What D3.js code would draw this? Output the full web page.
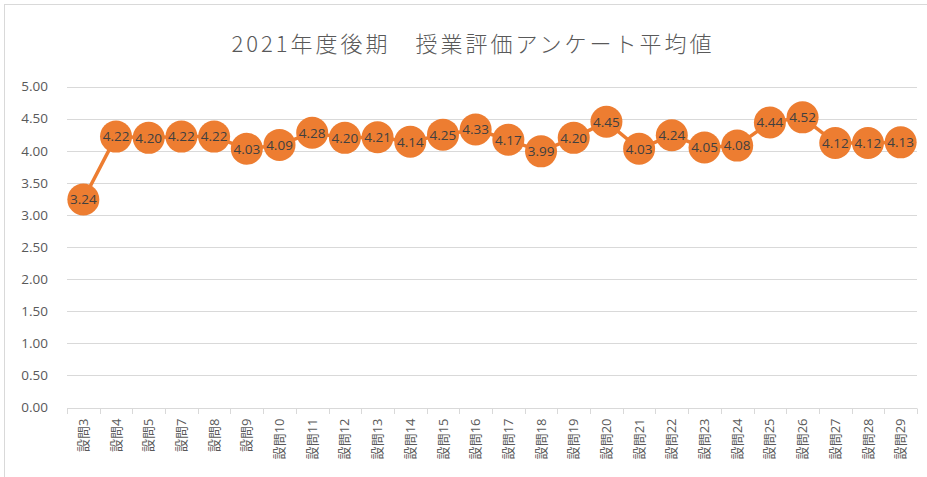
<!DOCTYPE html>
<html><head><meta charset="utf-8">
<script src="https://cdn.jsdelivr.net/npm/d3@7/dist/d3.min.js"></script>
<style>body{margin:0;background:#fff;}svg{display:block;}</style>
</head><body><svg id="c" width="927" height="477"></svg>
<script>
const categories = ["設問3","設問4","設問5","設問7","設問8","設問9","設問10","設問11","設問12","設問13","設問14","設問15","設問16","設問17","設問18","設問19","設問20","設問21","設問22","設問23","設問24","設問25","設問26","設問27","設問28","設問29"];
const values = [3.24,4.22,4.20,4.22,4.22,4.03,4.09,4.28,4.20,4.21,4.14,4.25,4.33,4.17,3.99,4.20,4.45,4.03,4.24,4.05,4.08,4.44,4.52,4.12,4.12,4.13];
const yTicks = [0,0.5,1,1.5,2,2.5,3,3.5,4,4.5,5];
const title = "2021年度後期　授業評価アンケート平均値";

const svg = d3.select("#c");
const font = "'Open Sans','Noto Sans CJK JP',sans-serif";
svg.append("rect").attr("x",4.5).attr("y",4.5).attr("width",940).attr("height",500)
  .attr("fill","#fff").attr("stroke","#d9d9d9");

const x = d3.scaleBand().domain(categories).range([67,917]);
const y = d3.scaleLinear().domain([0,5]).range([407.5,86.5]);

svg.append("text").attr("x",473).attr("y",52).attr("text-anchor","middle")
  .attr("font-family","'Noto Sans CJK JP',sans-serif").attr("font-size",22)
  .attr("letter-spacing",3).attr("font-weight",300)
  .attr("fill","#595959").text(title);

// gridlines
svg.append("g").selectAll("line").data(yTicks.filter(d=>d>0)).join("line")
  .attr("x1",67).attr("x2",917).attr("y1",d=>Math.round(y(d))+0.5).attr("y2",d=>Math.round(y(d))+0.5)
  .attr("stroke","#d9d9d9").attr("stroke-width",1);

// y axis
const ya = svg.append("g").attr("transform","translate(67,0)")
  .call(d3.axisLeft(y).tickValues(yTicks).tickFormat(d3.format(".2f")).tickSize(0).tickPadding(19));
ya.select(".domain").remove();
ya.selectAll("text").attr("font-family",font).attr("font-size",13.5).attr("fill","#595959");

// x axis
const xa = svg.append("g").attr("transform",`translate(0,${Math.round(y(0))+0.5})`)
  .call(d3.axisBottom(x).tickSize(0).tickPadding(0));
xa.select(".domain").attr("stroke","#d9d9d9").attr("d","M67,0H917");
xa.selectAll(".tick line").remove();
const bounds = categories.map(c=>x(c)).concat([x.range()[1]]);
svg.append("g").selectAll("line").data(bounds).join("line")
  .attr("x1",d=>Math.round(d)+0.5).attr("x2",d=>Math.round(d)+0.5)
  .attr("y1",Math.round(y(0))+0.5).attr("y2",Math.round(y(0))+6)
  .attr("stroke","#d9d9d9");
xa.selectAll(".tick text")
  .attr("font-family",font).attr("font-size",13).attr("fill","#595959")
  .attr("text-anchor","end").attr("dy","0.35em")
  .attr("transform","translate(0,10) rotate(-90)");

// line
const cx = d=>x(d)+x.bandwidth()/2;
svg.append("path").datum(values.map((v,i)=>[cx(categories[i]),y(v)]))
  .attr("d",d3.line()).attr("fill","none").attr("stroke","#ED7D31").attr("stroke-width",3.5)
  .attr("stroke-linejoin","round");

const g = svg.append("g").selectAll("g").data(values).join("g")
  .attr("transform",(d,i)=>`translate(${cx(categories[i])},${y(d)})`);
g.append("circle").attr("r",16).attr("fill","#ED7D31");
g.append("text").attr("text-anchor","middle").attr("dy","0.36em")
  .attr("font-family",font).attr("font-size",13.5).attr("fill","#404040")
  .text(d=>d.toFixed(2));
</script></body></html>
